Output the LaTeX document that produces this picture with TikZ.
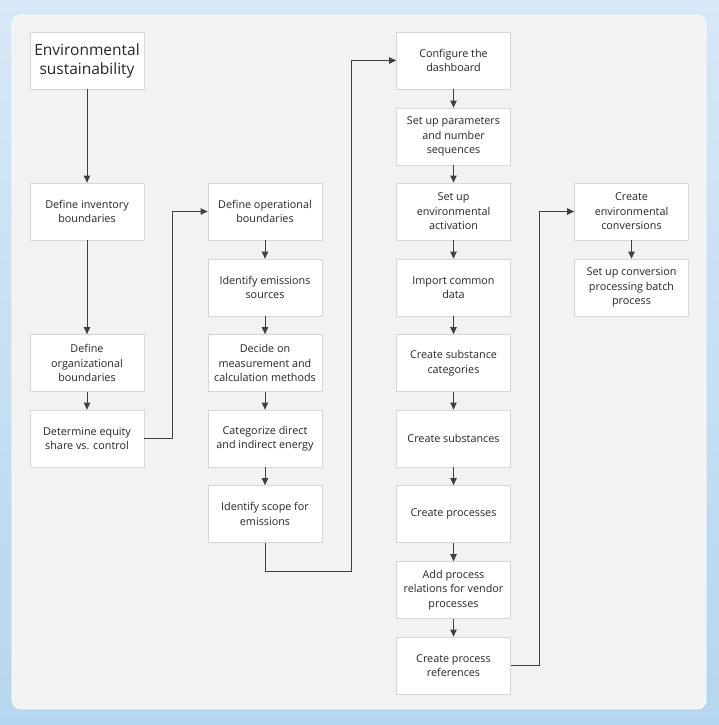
\documentclass[tikz,border=0pt]{standalone}
\usepackage{fontspec}
\setmainfont{Open Sans}
\usetikzlibrary{arrows.meta,calc}
\definecolor{bgtop}{HTML}{D7E8F6}
\definecolor{bgbot}{HTML}{B6D6EF}
\definecolor{panel}{HTML}{F2F2F2}
\definecolor{boxline}{HTML}{D6D6D6}
\definecolor{conn}{HTML}{404040}
\definecolor{txt}{HTML}{262626}
\tikzset{
  stepbox/.style={draw=boxline, line width=0.8pt, fill=white, minimum width=114pt, minimum height=57pt,
    inner sep=0pt, align=center, text=txt, font=\fontsize{10.8}{14.4}\selectfont},
  titlebox/.style={stepbox, font=\fontsize{15.5}{19}\selectfont},
  conn/.style={draw=conn, line width=0.9pt, -{Triangle[length=7pt,width=6.5pt]}}
}
\begin{document}
\begin{tikzpicture}[x=1pt,y=-1pt]
\useasboundingbox (0,0) rectangle (719,725);
\shade[top color=bgtop, bottom color=bgbot] (0,0) rectangle (719,725);
\draw[draw=white, line width=0.8pt, fill=panel, rounded corners=9pt] (12,15) rectangle (706,709);
% column 1
\node[titlebox] (env) at (87,60.5) {Environmental\\sustainability};
\node[stepbox] (inv) at (87,211.5) {Define inventory\\boundaries};
\node[stepbox] (org) at (87,363) {Define\\organizational\\boundaries};
\node[stepbox] (eq) at (87,438.5) {Determine equity\\share vs. control};
% column 2
\node[stepbox] (op) at (265,211.5) {Define operational\\boundaries};
\node[stepbox] (ies) at (265,287.5) {Identify emissions\\sources};
\node[stepbox] (dec) at (265,363) {Decide on\\measurement and\\calculation methods};
\node[stepbox] (cat) at (265,438.5) {Categorize direct\\and indirect energy};
\node[stepbox] (sc) at (265,514) {Identify scope for\\emissions};
% column 3
\node[stepbox] (cf) at (453.5,60.5) {Configure the\\dashboard};
\node[stepbox] (par) at (453.5,136.5) {Set up parameters\\and number\\sequences};
\node[stepbox] (act) at (453.5,211.5) {Set up\\environmental\\activation};
\node[stepbox] (imp) at (453.5,287.5) {Import common\\data};
\node[stepbox] (scat) at (453.5,363) {Create substance\\categories};
\node[stepbox] (sub) at (453.5,438.5) {Create substances};
\node[stepbox] (proc) at (453.5,514) {Create processes};
\node[stepbox] (rel) at (453.5,590) {Add process\\relations for vendor\\processes};
\node[stepbox] (ref) at (453.5,665.5) {Create process\\references};
% column 4
\node[stepbox] (cv) at (631.5,211.5) {Create\\environmental\\conversions};
\node[stepbox] (batch) at (631.5,287.5) {Set up conversion\\processing batch\\process};
% connectors
\draw[conn] (env) -- (inv);
\draw[conn] (inv) -- (org);
\draw[conn] (org) -- (eq);
\draw[conn] (eq.east) -- ++(28,0) |- (op.west);
\draw[conn] (op) -- (ies);
\draw[conn] (ies) -- (dec);
\draw[conn] (dec) -- (cat);
\draw[conn] (cat) -- (sc);
\coordinate (s1) at (351,571);
\draw[conn] (sc.south) |- (s1) |- (cf.west);
\draw[conn] (cf) -- (par);
\draw[conn] (par) -- (act);
\draw[conn] (act) -- (imp);
\draw[conn] (imp) -- (scat);
\draw[conn] (scat) -- (sub);
\draw[conn] (sub) -- (proc);
\draw[conn] (proc) -- (rel);
\draw[conn] (rel) -- (ref);
\draw[conn] (ref.east) -- ++(29,0) |- (cv.west);
\draw[conn] (cv) -- (batch);
\end{tikzpicture}
\end{document}
